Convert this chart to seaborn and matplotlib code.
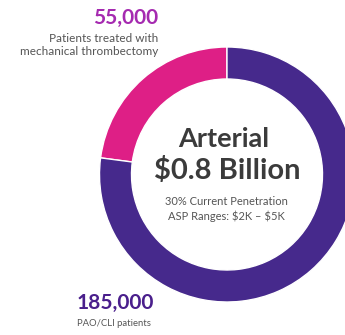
import matplotlib
matplotlib.use("Agg")
import matplotlib.pyplot as plt
import seaborn as sns

# Data
categories = ["Mechanical thrombectomy", "PAO/CLI"]
patients = [55000, 185000]
colors = ["#DE1F86", "#46298C"]
value_labels = ["55,000", "185,000"]
desc_labels = ["Patients treated with\nmechanical thrombectomy", "PAO/CLI patients"]
center_title = "Arterial"
center_value = "\\$0.8 Billion"
center_notes = "30% Current Penetration\nASP Ranges: \\$2K \u2013 \\$5K"

sns.set_theme(style="white")
plt.rcParams['font.family'] = ['Lato', 'DejaVu Sans']

W, H = 345, 335
fig = plt.figure(figsize=(W / 100, H / 100), dpi=100)
ax = fig.add_axes([0, 0, 1, 1])

cx, cy = 227, H - 174.5
R = 127.5
ax.pie(patients, colors=colors, startangle=90, counterclock=True,
       center=(cx, cy), radius=R, frame=True,
       wedgeprops=dict(width=32, edgecolor="white", linewidth=1.0))
ax.set_xlim(0, W)
ax.set_ylim(0, H)
ax.set_aspect("auto")
ax.axis("off")

# Center text
ax.text(cx - 3, H - 139, center_title, ha="center", va="center",
        fontsize=19.5, fontweight="bold", color="#3b3b3b")
ax.text(cx, H - 170, center_value, ha="center", va="center",
        fontsize=21, fontweight="bold", color="#3b3b3b")
ax.text(cx - 1, H - 209, center_notes, ha="center", va="center",
        fontsize=8, color="#555555", linespacing=1.3)

# Top-left label
ax.text(158, H - 18, value_labels[0], ha="right", va="center",
        fontsize=15, fontweight="bold", color="#A52AB0")
ax.text(158, H - 45, desc_labels[0], ha="right", va="center",
        fontsize=8.5, color="#555555", linespacing=1.15)

# Bottom label
ax.text(77, H - 303, value_labels[1], ha="left", va="center",
        fontsize=15, fontweight="bold", color="#4A1F8C")
ax.text(77, H - 323, desc_labels[1], ha="left", va="center",
        fontsize=6.8, color="#555555")

fig.savefig("out.png", dpi=100, facecolor="white")
